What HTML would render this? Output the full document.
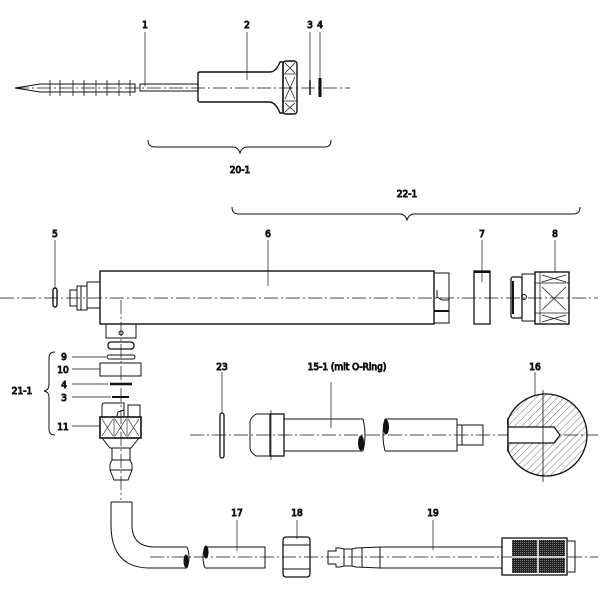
<!DOCTYPE html>
<html><head><style>body{margin:0;background:#fff}svg{display:block}text{font-family:"DejaVu Sans Condensed","DejaVu Sans","Liberation Sans",sans-serif;font-size:10px;fill:#111;text-anchor:middle}</style></head>
<body>
<svg width="600" height="600" viewBox="0 0 600 600" fill="none" stroke="#111" stroke-width="1">
<defs>
<pattern id="h" width="5" height="5" patternUnits="userSpaceOnUse" patternTransform="rotate(45)"><line x1="0" y1="0" x2="0" y2="5" stroke="#333" stroke-width="0.7"/></pattern>
<pattern id="g" width="2" height="2" patternUnits="userSpaceOnUse"><rect width="2" height="2" fill="#222" stroke="none"/><rect width="1" height="1" fill="#777" stroke="none"/></pattern>
<clipPath id="cp"><rect x="507" y="380" width="100" height="110"/></clipPath>
</defs>
<g stroke-dasharray="14,3,2,3" stroke-width="0.7">
<line x1="15" y1="88" x2="350" y2="88"/>
<line x1="0" y1="298" x2="598" y2="298"/>
<line x1="121" y1="300" x2="121" y2="500"/>
<line x1="190" y1="435" x2="598" y2="435"/>
<line x1="150" y1="557" x2="598" y2="557"/>
</g>
<!-- top part -->
<path d="M15 88 L40 84 L135 84 L135 92 L40 92 Z"/>
<g stroke-width="0.8"><line x1="50" y1="80" x2="50" y2="96"/><line x1="60" y1="80" x2="60" y2="96"/><line x1="73" y1="80" x2="73" y2="96"/><line x1="84" y1="80" x2="84" y2="96"/><line x1="96" y1="80" x2="96" y2="96"/><line x1="107" y1="80" x2="107" y2="96"/><line x1="119" y1="80" x2="119" y2="96"/><line x1="130" y1="80" x2="130" y2="96"/></g>
<rect x="140" y="84" width="58" height="7"/>
<path d="M200 72 L270 72 Q276 72 280 62 L283 62 L283 113 L280 113 Q276 103 270 102 L200 102 Q198 102 198 100 L198 74 Q198 72 200 72Z" stroke-width="1.4"/>
<rect x="283" y="61" width="14" height="53" rx="3" stroke-width="1.4"/>
<g stroke-width="0.7"><line x1="283" y1="74" x2="297" y2="74"/><line x1="283" y1="101" x2="297" y2="101"/><path d="M285 63L295 73M295 63L285 73M285 77L295 99M295 77L285 99M285 103L295 112M295 103L285 112"/></g>
<line x1="310" y1="80" x2="310" y2="95" stroke-width="1.5"/>
<line x1="320" y1="78" x2="320" y2="97" stroke-width="3"/>
<g stroke-width="0.7"><line x1="145" y1="32" x2="145" y2="86"/><line x1="247" y1="32" x2="247" y2="80"/><line x1="310" y1="32" x2="310" y2="80"/><line x1="320" y1="32" x2="320" y2="78"/></g>
<text x="145" y="28">1</text><text x="247" y="28">2</text><text x="310" y="28">3</text><text x="320" y="28">4</text>
<path d="M148 140 Q148 147 155 147 L233 147 Q238 147 240 153 Q242 147 247 147 L325 147 Q331 147 331 140"/>
<text x="240" y="173">20-1</text>
<path d="M232 207 Q232 214 239 214 L400 214 Q405 214 407 220 Q409 214 414 214 L573 214 Q580 214 580 207"/>
<text x="407" y="197">22-1</text>
<!-- main body -->
<rect x="100" y="271" width="334" height="53" stroke-width="1.4"/>
<rect x="434" y="273" width="15" height="50"/>
<line x1="434" y1="311" x2="449" y2="311" stroke-width="2"/><path d="M437 290 L437 297 L442 300 L449 300"/>
<rect x="87" y="282" width="13" height="26"/>
<path d="M77 286 L87 286 L87 310 L77 310 Z M70 290 L77 290 L77 306 L70 306Z"/>
<line x1="81" y1="286" x2="81" y2="310"/>
<rect x="53" y="288" width="4" height="19" rx="2" stroke-width="1.4"/>
<rect x="474" y="271" width="16" height="53" stroke-width="1.3"/><line x1="474" y1="272" x2="490" y2="272" stroke-width="2"/>
<rect x="511" y="277" width="11" height="41" rx="2" stroke-width="1.3"/><line x1="513" y1="281" x2="513" y2="314" stroke-width="2"/>
<rect x="522" y="274" width="13" height="47"/>
<rect x="535" y="272" width="34" height="52" stroke-width="1.4"/>
<g stroke-width="0.7"><line x1="535" y1="283" x2="569" y2="283"/><line x1="535" y1="313" x2="569" y2="313"/><line x1="540" y1="272" x2="540" y2="324"/><path d="M542 275L566 282M566 275L542 282M542 287L566 310M566 287L542 310M542 315L566 322M566 315L542 322"/></g>
<circle cx="524" cy="297" r="2.5"/>
<line x1="268" y1="240" x2="268" y2="286" stroke-width="0.7"/><line x1="482" y1="240" x2="482" y2="282" stroke-width="0.7"/><line x1="555" y1="240" x2="555" y2="272" stroke-width="0.7"/><line x1="55" y1="240" x2="55" y2="288" stroke-width="0.7"/>
<text x="55" y="237">5</text><text x="268" y="237">6</text><text x="482" y="237">7</text><text x="555" y="237">8</text>
<!-- bottom stub -->
<path d="M106 324 L106 338 L136 338 L136 324"/><rect x="108" y="342" width="26" height="7" rx="3" stroke-width="1.3"/><circle cx="121" cy="333" r="2"/>
<rect x="107" y="355" width="28" height="4" rx="2"/>
<rect x="100" y="363" width="41" height="13"/>
<line x1="110" y1="384" x2="132" y2="384" stroke-width="2.5"/>
<line x1="112" y1="397" x2="129" y2="397" stroke-width="2"/>
<path d="M102 417 L102 406 Q102 403 105 403 L124 403 L124 417 M128 417 L128 405 L140 405 L140 417"/>
<path d="M124 407 L124 410 L118 412 L117 416"/>
<rect x="100" y="417" width="41" height="21" stroke-width="1.6"/>
<g stroke-width="0.6"><line x1="114" y1="417" x2="114" y2="438"/><line x1="127" y1="417" x2="127" y2="438"/><path d="M102 419L113 436M113 419L102 436M115 419L126 436M126 419L115 436M128 419L139 436M139 419L128 436"/></g>
<path d="M102 438 L110 448 L131 448 L139 438"/>
<path d="M112 448 L112 460 L110 464 L110 470 L114 480 L128 480 L132 470 L132 464 L130 460 L130 448"/><line x1="112" y1="460" x2="130" y2="460"/><line x1="110" y1="470" x2="132" y2="470"/>
<g stroke-width="0.7"><line x1="72" y1="357" x2="106" y2="357"/><line x1="72" y1="369" x2="100" y2="369"/><line x1="72" y1="384" x2="108" y2="384"/><line x1="72" y1="397" x2="111" y2="397"/><line x1="72" y1="426" x2="100" y2="426"/></g>
<text x="64" y="360">9</text><text x="63" y="373">10</text><text x="64" y="388">4</text><text x="64" y="401">3</text><text x="63" y="430">11</text>
<path d="M55 352 Q49 352 49 358 L49 385 Q49 390 44 391 Q49 392 49 397 L49 429 Q49 435 55 435"/>
<text x="22" y="394">21-1</text>
<!-- row 2 -->
<rect x="220" y="413" width="4" height="45" rx="2" stroke-width="1.3"/>
<path d="M270 414 L256 414 Q250 418 250 422 L250 448 Q250 452 256 456 L270 456 Z"/><rect x="270" y="414" width="14" height="42" stroke-width="1.3"/><line x1="271" y1="410" x2="271" y2="460" stroke-width="0.7"/>
<path d="M284 419 L363 419 M284 451 L363 451 M363 419 Q367 435 363 451"/><ellipse cx="361" cy="443" rx="2.5" ry="7" fill="#111"/>
<path d="M385 419 L457 419 L457 451 L385 451 M385 419 Q381 435 385 451"/><ellipse cx="386" cy="427" rx="2.5" ry="7" fill="#111"/>
<rect x="457" y="425" width="26" height="20"/><line x1="462" y1="425" x2="462" y2="445"/>
<line x1="331" y1="382" x2="331" y2="428" stroke-width="0.7"/><line x1="222" y1="372" x2="222" y2="413" stroke-width="0.7"/><line x1="535" y1="372" x2="535" y2="395" stroke-width="0.7"/>
<text x="222" y="370">23</text><text x="347" y="370">15-1 (mit O-Ring)</text><text x="535" y="370">16</text>
<g clip-path="url(#cp)"><circle cx="546" cy="435" r="41" fill="url(#h)" stroke-width="1.3"/></g>
<line x1="508" y1="420" x2="508" y2="450" stroke-width="1.3"/>
<line x1="508" y1="418" x2="508" y2="452" stroke-width="1.3"/>
<path d="M508 427 L554 427 L560 435 L554 443 L508 443 Z" fill="#fff" stroke-width="1.2"/>
<line x1="543" y1="390" x2="543" y2="482" stroke-width="0.8"/>
<!-- bottom row -->
<path d="M111 502 L111 525 Q111 568 150 568 L187 568 M132 502 L132 525 Q132 547 155 547 L187 547"/><line x1="111" y1="502" x2="132" y2="502"/>
<path d="M187 547 Q191 557 187 568"/><ellipse cx="186" cy="561" rx="2" ry="6" fill="#111"/>
<path d="M205 547 L265 547 L265 568 L205 568 M205 547 Q201 557 205 568"/><ellipse cx="206" cy="552" rx="2" ry="6" fill="#111"/>
<line x1="237" y1="520" x2="237" y2="551" stroke-width="0.7"/><line x1="297" y1="520" x2="297" y2="539" stroke-width="0.7"/><line x1="433" y1="520" x2="433" y2="550" stroke-width="0.7"/>
<text x="237" y="516">17</text><text x="297" y="516">18</text><text x="433" y="516">19</text>
<rect x="283" y="537" width="27" height="40" rx="3" stroke-width="1.3"/><line x1="283" y1="545" x2="310" y2="545"/><line x1="283" y1="569" x2="310" y2="569"/>
<path d="M328 551 L336 551 L336 548 L340 548 L344 549 L352 549 L356 548 L380 547 L380 568 L356 567 L352 566 L344 566 L340 567 L336 567 L336 564 L328 564 Z"/>
<line x1="344" y1="549" x2="344" y2="566"/><line x1="352" y1="549" x2="352" y2="566"/><line x1="362" y1="548" x2="362" y2="567"/>
<rect x="380" y="547" width="122" height="21"/>
<rect x="502" y="538" width="65" height="37" stroke-width="1.3"/>
<rect x="512" y="540" width="53" height="33" fill="url(#g)" stroke="none"/>
<line x1="538" y1="540" x2="538" y2="573" stroke="#fff" stroke-width="1.5"/><line x1="512" y1="557" x2="565" y2="557" stroke="#fff" stroke-width="1.5"/>
<rect x="567" y="541" width="8" height="31"/>
</svg>
</body></html>
